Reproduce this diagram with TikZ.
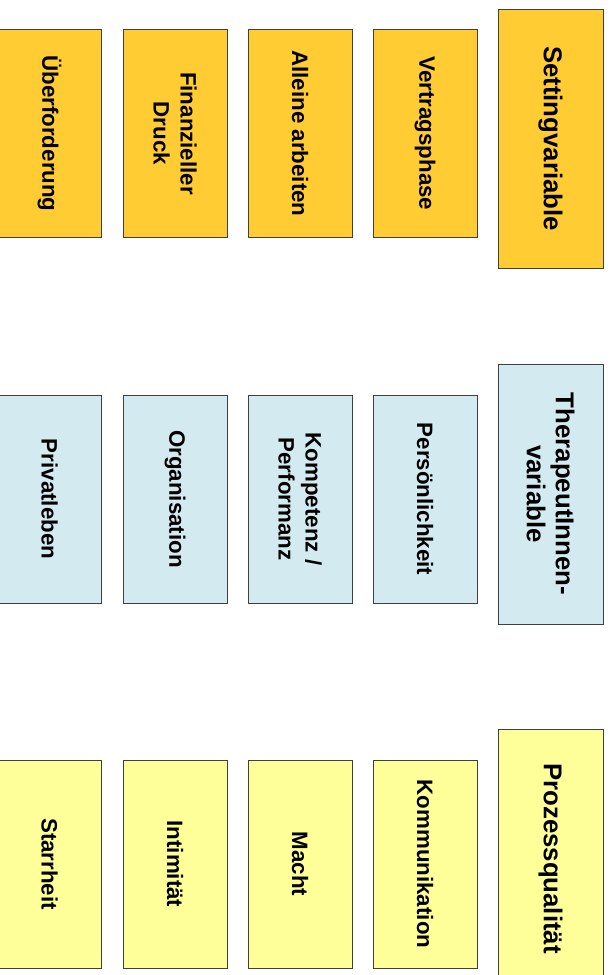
\documentclass[tikz,border=0pt]{standalone}
\usepackage{fontspec}
\setmainfont{Liberation Sans}
\definecolor{orangefill}{HTML}{FFCC33}
\definecolor{bluefill}{HTML}{D3EBF0}
\definecolor{yellowfill}{HTML}{FFFF99}
\definecolor{edgegray}{HTML}{404040}
\tikzset{
  basebox/.style={draw=edgegray, line width=0.9pt, rotate=-90, align=center, inner sep=2pt},
  headbox/.style={basebox, minimum width=259pt, minimum height=105pt, font=\fontsize{25.8}{29}\selectfont\bfseries},
  itembox/.style={basebox, minimum width=208pt, minimum height=104pt, font=\fontsize{22.3}{27}\selectfont\bfseries},
  orangebox/.style={fill=orangefill},
  bluebox/.style={fill=bluefill},
  yellowbox/.style={fill=yellowfill}
}
\begin{document}
\begin{tikzpicture}[x=1pt,y=-1pt]
\useasboundingbox (0,0) rectangle (612,975);
\clip (0,0) rectangle (612,975);
% headers
\node[headbox,orangebox] (setting) at (550.5,138.5) {Settingvariable};
\node[headbox,bluebox,minimum width=260pt] (therapeut) at (550.5,494) {TherapeutInnen-\\variable};
\node[headbox,yellowbox] (prozess) at (550.5,858.5) {Prozessqualität};
% orange row
\node[itembox,orangebox] (vertrag) at (425,133.5) {Vertragsphase};
\node[itembox,orangebox] (alleine) at (300,133.5) {Alleine arbeiten};
\node[itembox,orangebox] (finanz) at (175,133.5) {Finanzieller\\Druck};
\node[itembox,orangebox] (ueber) at (49.5,133.5) {Überforderung};
% blue row
\node[itembox,bluebox] (persoen) at (425,499) {Persönlichkeit};
\node[itembox,bluebox] (kompetenz) at (300,499) {Kompetenz /\\Performanz};
\node[itembox,bluebox] (organisation) at (175,499) {Organisation};
\node[itembox,bluebox] (privat) at (49.5,499) {Privatleben};
% yellow row
\node[itembox,yellowbox] (kommunikation) at (425,864) {Kommunikation};
\node[itembox,yellowbox] (macht) at (300,864) {Macht};
\node[itembox,yellowbox] (intim) at (175,864) {Intimität};
\node[itembox,yellowbox] (starr) at (49.5,864) {Starrheit};
\end{tikzpicture}
\end{document}
